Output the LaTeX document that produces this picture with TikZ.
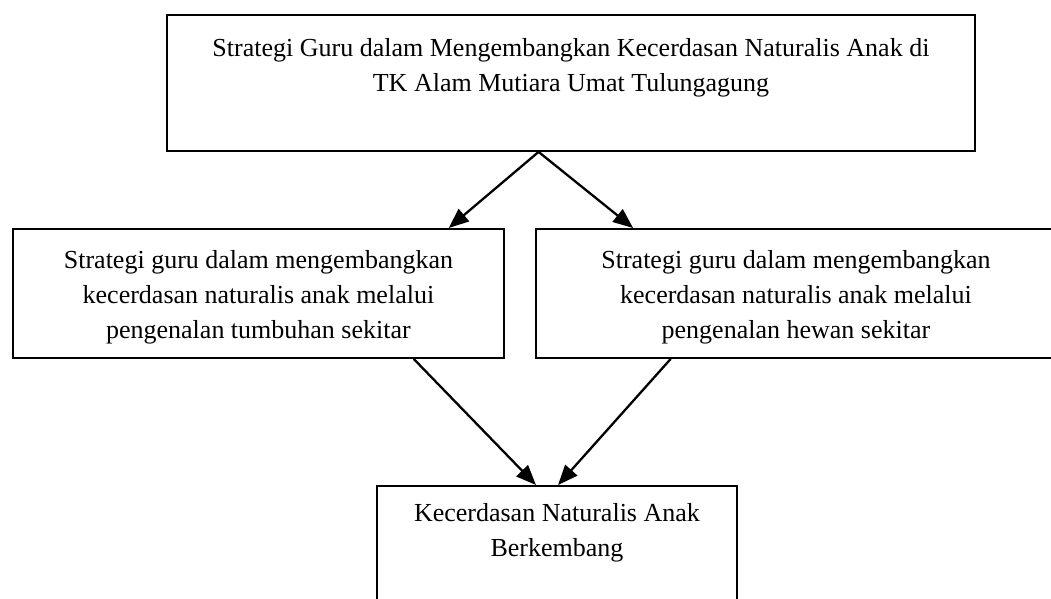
\documentclass[tikz,border=0pt]{standalone}
\usepackage{fontspec}
\setmainfont{Liberation Serif}
\usetikzlibrary{arrows.meta}
\usetikzlibrary{calc}

\tikzset{
  kotak/.style={draw, line width=1.9pt, inner sep=0pt, anchor=north west},
  isi/.style={align=center, inner sep=0pt, anchor=north, font=\fontsize{26}{35}\selectfont},
  panah/.style={-{Triangle[length=20pt,width=16pt]}, line width=2.3pt},
}

\begin{document}
\begin{tikzpicture}[x=1pt,y=1pt]
    \useasboundingbox (0,0) rectangle (1051,-598);
    \clip (0,0) rectangle (1051,-598);
    % judul
    \node[kotak, minimum width=808pt, minimum height=136pt] (judul) at (166,-14) {};
    \node[isi] (tjudul) at ($(judul.north)+(0,-24)$)
      {Strategi Guru dalam Mengembangkan Kecerdasan Naturalis Anak di\\TK Alam Mutiara Umat Tulungagung};
    % dua strategi
    \node[kotak, minimum width=491pt, minimum height=129pt] (kiri) at (12,-228) {};
    \node[isi] (tkiri) at ($(kiri.north)+(0,-22)$)
      {Strategi guru dalam mengembangkan\\kecerdasan naturalis anak melalui\\pengenalan tumbuhan sekitar};
    \node[kotak, minimum width=520pt, minimum height=129pt] (kanan) at (535,-228) {};
    \node[isi] (tkanan) at ($(kanan.north)+(0,-22)$)
      {Strategi guru dalam mengembangkan\\kecerdasan naturalis anak melalui\\pengenalan hewan sekitar};
    % hasil
    \node[kotak, minimum width=360pt, minimum height=140pt] (hasil) at (376,-485) {};
    \node[isi] (thasil) at ($(hasil.north)+(0,-18)$)
      {Kecerdasan Naturalis Anak\\Berkembang};
    % panah
    \draw[panah] ($(judul.south west)!0.46!(judul.south east)$) -- ($(kiri.north west)!0.886!(kiri.north east)$);
    \draw[panah] ($(judul.south west)!0.46!(judul.south east)$) -- ($(kanan.north west)!0.188!(kanan.north east)$);
    \draw[panah] ($(kiri.south west)!0.815!(kiri.south east)$) -- ($(hasil.north west)!0.442!(hasil.north east)$);
    \draw[panah] ($(kanan.south west)!0.26!(kanan.south east)$) -- ($(hasil.north west)!0.503!(hasil.north east)$);
\end{tikzpicture}
\end{document}
